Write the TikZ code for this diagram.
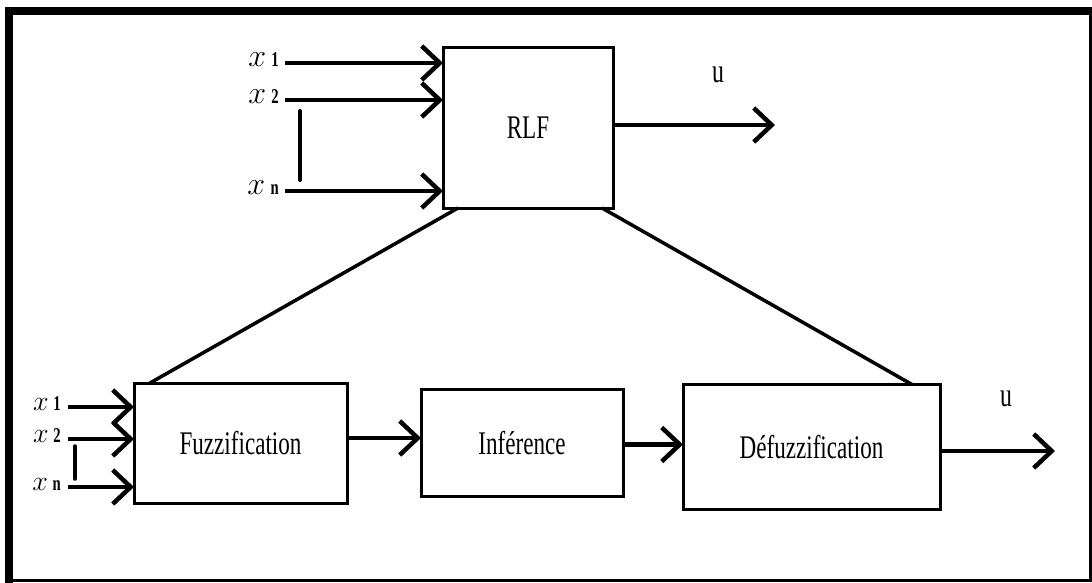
\documentclass[tikz,border=0pt]{standalone}
\usepackage{fontspec}
\usepackage{fix-cm}
\usetikzlibrary{arrows.meta, positioning}
\newfontfamily\blockfont[FakeStretch=0.7]{Liberation Serif}
% input variable label: curly x with a small upright index
\newcommand{\invar}[1]{$x$\,{\blockfont\bfseries\fontsize{21}{23}\selectfont #1}}

\begin{document}
\begin{tikzpicture}[
    x=1pt, y=-1pt,
    block/.style={rectangle, draw, line width=3pt, fill=white, inner sep=0pt, outer sep=0pt, align=center, font=\blockfont\fontsize{33}{38}\selectfont},
    arrow/.style={line width=4.5pt, -{Straight Barb[length=18pt, width=34pt]}},
    link/.style={line width=3.5pt},
    bar/.style={line width=4pt, line cap=round},
    inlab/.style={inner sep=0pt, anchor=base east, font=\fontsize{32}{34}\selectfont},
    outlab/.style={inner sep=0pt, anchor=base, font=\blockfont\fontsize{34}{38}\selectfont}
]
    \useasboundingbox (0,0) rectangle (1092,582);
    % frame
    \draw[line width=3pt] (9,11) rectangle (1090.5,580.5);
    \draw[line width=8pt] (9,584) -- (9,11) -- (1092,11);

    % blocks
    \node[block, minimum width=170pt, minimum height=161pt] (rlf) at (528,127.5) {RLF};
    \node[block, minimum width=213pt, minimum height=120pt] (fuzz) at (240.5,443) {Fuzzification};
    \node[block, minimum width=202pt, minimum height=107pt, right=74pt of fuzz] (infer) {Inférence};
    \node[block, minimum width=257pt, minimum height=125pt, right=60pt of infer, yshift=-4pt] (defuzz) {Défuzzification};

    % RLF inputs and output
    \coordinate (a1) at (285,63);
    \coordinate (a2) at (285,100);
    \coordinate (an) at (285,191);
    \node[inlab] (la1) at (279,66) {\invar{1}};
    \node[inlab] (la2) at (279,103) {\invar{2}};
    \node[inlab] (lan) at (279,194) {\invar{n}};
    \draw[arrow] (a1) -- (a1 -| rlf.west);
    \draw[arrow] (a2) -- (a2 -| rlf.west);
    \draw[arrow] (an) -- (an -| rlf.west);
    \coordinate (ba) at (300,111);
    \coordinate (bb) at (300,180);
    \draw[bar] (ba) -- (bb);
    \coordinate (u1) at (775,125);
    \draw[arrow] (rlf.east |- u1) -- (u1);
    \node[outlab] (lu1) at (718,82) {u};

    % links to the inner chain
    \draw[link] ([xshift=15pt]rlf.south west) -- ([xshift=16pt]fuzz.north west);
    \draw[link] ([xshift=-11pt]rlf.south east) -- ([xshift=-28pt]defuzz.north east);

    % chain inputs
    \coordinate (b1) at (68,407);
    \coordinate (b2) at (68,439);
    \coordinate (bn) at (68,487);
    \node[inlab, font=\fontsize{28}{30}\selectfont] (lb1) at (61,410) {\invar{1}};
    \node[inlab, font=\fontsize{28}{30}\selectfont] (lb2) at (61,442) {\invar{2}};
    \node[inlab, font=\fontsize{28}{30}\selectfont] (lbn) at (61,490) {\invar{n}};
    \draw[arrow] (b1) -- (b1 -| fuzz.west);
    \draw[arrow] (b2) -- (b2 -| fuzz.west);
    \draw[arrow] (bn) -- (bn -| fuzz.west);
    \coordinate (bc) at (75,446);
    \coordinate (bd) at (75,479);
    \draw[bar, line width=3.5pt] (bc) -- (bd);

    % chain arrows and output
    \draw[arrow] ([yshift=5pt]fuzz.east) -- ([yshift=5pt]fuzz.east -| infer.west);
    \draw[arrow] ([yshift=-1.5pt]infer.east) -- ([yshift=-1.5pt]infer.east -| defuzz.west);
    \coordinate (u2) at (1055,451);
    \draw[arrow] (defuzz.east |- u2) -- (u2);
    \node[outlab] (lu2) at (1006,406) {u};
\end{tikzpicture}
\end{document}
